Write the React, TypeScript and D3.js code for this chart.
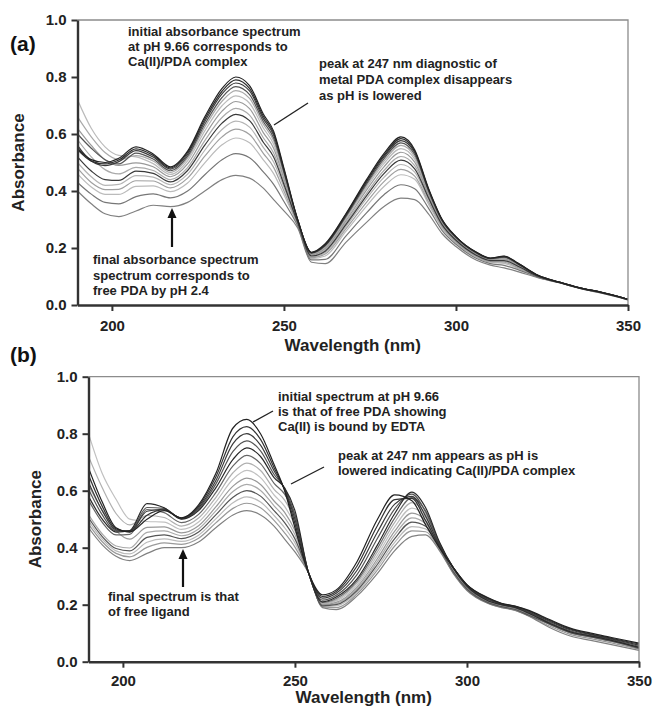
import { useEffect, useRef } from "react";
import * as d3 from "d3";

// wavelength grid (nm) shared by every spectrum
const wavelengths = [
  190, 194, 198, 202, 207, 212, 217, 222, 227, 232, 236, 240, 244, 247, 250, 254, 258, 262,
  268, 274, 279, 284, 288, 292, 296, 300, 306, 310, 314, 318, 324, 330, 336, 342, 350,
];

const xTicks = [200, 250, 300, 350];
const yTicks = [0, 0.2, 0.4, 0.6, 0.8, 1.0];

// (a) Ca(II)/PDA titrated from pH 9.66 (first) down to pH 2.4 (last)
const spectraA = [
  [0.55, 0.51, 0.50, 0.515, 0.555, 0.53, 0.485, 0.54, 0.66, 0.76, 0.80, 0.77, 0.67, 0.61, 0.48, 0.30, 0.185, 0.215, 0.32, 0.44, 0.53, 0.59, 0.545, 0.41, 0.30, 0.24, 0.185, 0.165, 0.172, 0.147, 0.103, 0.08, 0.06, 0.045, 0.02],
  [0.545, 0.505, 0.495, 0.509, 0.548, 0.525, 0.481, 0.535, 0.652, 0.75, 0.79, 0.76, 0.662, 0.603, 0.475, 0.299, 0.184, 0.212, 0.317, 0.435, 0.524, 0.584, 0.54, 0.407, 0.298, 0.239, 0.184, 0.164, 0.171, 0.146, 0.103, 0.08, 0.06, 0.045, 0.02],
  [0.56, 0.505, 0.489, 0.503, 0.542, 0.519, 0.477, 0.529, 0.644, 0.741, 0.779, 0.751, 0.654, 0.596, 0.471, 0.298, 0.183, 0.21, 0.314, 0.431, 0.519, 0.577, 0.535, 0.405, 0.297, 0.238, 0.183, 0.164, 0.169, 0.145, 0.103, 0.08, 0.06, 0.045, 0.02],
  [0.60, 0.55, 0.51, 0.495, 0.533, 0.512, 0.471, 0.522, 0.634, 0.728, 0.766, 0.738, 0.644, 0.586, 0.465, 0.297, 0.182, 0.208, 0.31, 0.425, 0.512, 0.569, 0.528, 0.401, 0.295, 0.237, 0.182, 0.163, 0.168, 0.144, 0.102, 0.08, 0.06, 0.045, 0.02],
  [0.66, 0.59, 0.535, 0.51, 0.524, 0.505, 0.465, 0.515, 0.624, 0.715, 0.752, 0.725, 0.634, 0.576, 0.459, 0.296, 0.18, 0.205, 0.306, 0.419, 0.504, 0.56, 0.52, 0.397, 0.293, 0.235, 0.181, 0.161, 0.166, 0.143, 0.102, 0.08, 0.06, 0.045, 0.02],
  [0.72, 0.62, 0.555, 0.525, 0.52, 0.496, 0.458, 0.506, 0.611, 0.699, 0.734, 0.708, 0.621, 0.564, 0.451, 0.294, 0.178, 0.202, 0.301, 0.412, 0.495, 0.549, 0.512, 0.393, 0.29, 0.233, 0.18, 0.16, 0.164, 0.141, 0.101, 0.08, 0.06, 0.044, 0.02],
  [0.62, 0.56, 0.51, 0.49, 0.499, 0.485, 0.45, 0.495, 0.595, 0.68, 0.714, 0.689, 0.605, 0.55, 0.443, 0.292, 0.176, 0.198, 0.295, 0.403, 0.484, 0.536, 0.501, 0.388, 0.288, 0.231, 0.178, 0.159, 0.162, 0.14, 0.101, 0.08, 0.06, 0.044, 0.02],
  [0.58, 0.52, 0.475, 0.46, 0.483, 0.472, 0.44, 0.482, 0.577, 0.658, 0.69, 0.666, 0.587, 0.533, 0.432, 0.29, 0.174, 0.193, 0.288, 0.392, 0.471, 0.521, 0.489, 0.381, 0.284, 0.229, 0.176, 0.157, 0.159, 0.137, 0.1, 0.079, 0.059, 0.044, 0.02],
  [0.52, 0.47, 0.44, 0.437, 0.47, 0.462, 0.432, 0.472, 0.561, 0.638, 0.669, 0.647, 0.571, 0.519, 0.423, 0.289, 0.172, 0.189, 0.282, 0.383, 0.46, 0.508, 0.478, 0.376, 0.281, 0.227, 0.174, 0.156, 0.156, 0.136, 0.1, 0.079, 0.059, 0.044, 0.02],
  [0.50, 0.45, 0.42, 0.423, 0.454, 0.449, 0.422, 0.459, 0.543, 0.616, 0.645, 0.624, 0.553, 0.502, 0.413, 0.287, 0.169, 0.184, 0.275, 0.373, 0.447, 0.493, 0.466, 0.37, 0.278, 0.224, 0.172, 0.154, 0.153, 0.134, 0.099, 0.079, 0.059, 0.044, 0.019],
  [0.48, 0.43, 0.405, 0.406, 0.436, 0.435, 0.411, 0.445, 0.522, 0.59, 0.617, 0.598, 0.532, 0.483, 0.40, 0.284, 0.166, 0.179, 0.267, 0.36, 0.432, 0.476, 0.452, 0.362, 0.274, 0.221, 0.17, 0.152, 0.15, 0.131, 0.099, 0.079, 0.059, 0.043, 0.019],
  [0.46, 0.414, 0.388, 0.388, 0.416, 0.418, 0.398, 0.428, 0.499, 0.562, 0.586, 0.569, 0.509, 0.461, 0.387, 0.281, 0.163, 0.172, 0.258, 0.347, 0.415, 0.457, 0.441, 0.354, 0.269, 0.218, 0.168, 0.15, 0.146, 0.128, 0.098, 0.079, 0.059, 0.043, 0.019],
  [0.43, 0.389, 0.36, 0.355, 0.38, 0.39, 0.376, 0.40, 0.457, 0.51, 0.531, 0.517, 0.467, 0.423, 0.363, 0.277, 0.158, 0.16, 0.242, 0.323, 0.386, 0.422, 0.408, 0.34, 0.261, 0.213, 0.163, 0.145, 0.139, 0.124, 0.097, 0.078, 0.058, 0.043, 0.018],
  [0.40, 0.355, 0.32, 0.31, 0.33, 0.35, 0.345, 0.36, 0.40, 0.44, 0.455, 0.445, 0.41, 0.37, 0.33, 0.27, 0.15, 0.145, 0.22, 0.29, 0.345, 0.375, 0.37, 0.32, 0.25, 0.205, 0.157, 0.14, 0.13, 0.117, 0.095, 0.078, 0.058, 0.042, 0.018],
];

// (b) Ca(II)/PDA with EDTA, pH 9.66 (first) down to low pH (last)
const spectraB = [
  [0.68, 0.56, 0.47, 0.455, 0.50, 0.53, 0.505, 0.55, 0.66, 0.82, 0.85, 0.80, 0.69, 0.60, 0.47, 0.31, 0.235, 0.252, 0.35, 0.50, 0.585, 0.565, 0.48, 0.40, 0.33, 0.27, 0.225, 0.205, 0.195, 0.18, 0.148, 0.118, 0.1, 0.085, 0.065],
  [0.655, 0.545, 0.466, 0.456, 0.514, 0.533, 0.504, 0.545, 0.648, 0.79, 0.825, 0.78, 0.679, 0.603, 0.485, 0.31, 0.229, 0.246, 0.335, 0.478, 0.569, 0.573, 0.495, 0.405, 0.33, 0.269, 0.223, 0.204, 0.194, 0.178, 0.145, 0.115, 0.097, 0.082, 0.062],
  [0.63, 0.53, 0.462, 0.458, 0.528, 0.535, 0.503, 0.54, 0.635, 0.765, 0.80, 0.76, 0.668, 0.605, 0.50, 0.31, 0.223, 0.24, 0.32, 0.455, 0.553, 0.58, 0.51, 0.41, 0.33, 0.268, 0.22, 0.203, 0.193, 0.175, 0.142, 0.112, 0.095, 0.08, 0.058],
  [0.605, 0.515, 0.459, 0.459, 0.541, 0.538, 0.501, 0.535, 0.623, 0.738, 0.775, 0.74, 0.656, 0.608, 0.515, 0.31, 0.216, 0.233, 0.305, 0.433, 0.536, 0.588, 0.525, 0.415, 0.33, 0.266, 0.218, 0.201, 0.191, 0.173, 0.138, 0.108, 0.092, 0.078, 0.054],
  [0.58, 0.50, 0.455, 0.46, 0.555, 0.54, 0.50, 0.53, 0.61, 0.71, 0.75, 0.72, 0.645, 0.61, 0.53, 0.31, 0.21, 0.227, 0.29, 0.41, 0.52, 0.595, 0.54, 0.42, 0.33, 0.265, 0.215, 0.20, 0.19, 0.17, 0.135, 0.105, 0.09, 0.075, 0.05],
  [0.567, 0.489, 0.445, 0.447, 0.534, 0.523, 0.488, 0.517, 0.593, 0.687, 0.724, 0.695, 0.625, 0.588, 0.513, 0.31, 0.208, 0.222, 0.283, 0.398, 0.504, 0.576, 0.529, 0.416, 0.328, 0.263, 0.214, 0.199, 0.189, 0.169, 0.134, 0.104, 0.089, 0.074, 0.049],
  [0.72, 0.61, 0.52, 0.48, 0.513, 0.506, 0.476, 0.504, 0.576, 0.663, 0.697, 0.671, 0.604, 0.567, 0.495, 0.31, 0.205, 0.217, 0.276, 0.386, 0.489, 0.558, 0.517, 0.413, 0.325, 0.261, 0.213, 0.198, 0.188, 0.168, 0.134, 0.104, 0.089, 0.074, 0.049],
  [0.80, 0.66, 0.57, 0.50, 0.492, 0.49, 0.464, 0.49, 0.56, 0.64, 0.671, 0.646, 0.584, 0.545, 0.478, 0.31, 0.203, 0.213, 0.268, 0.374, 0.473, 0.539, 0.506, 0.409, 0.323, 0.26, 0.211, 0.196, 0.186, 0.166, 0.133, 0.103, 0.088, 0.073, 0.048],
  [0.62, 0.53, 0.46, 0.43, 0.471, 0.473, 0.452, 0.477, 0.543, 0.616, 0.644, 0.622, 0.563, 0.524, 0.46, 0.31, 0.20, 0.208, 0.261, 0.362, 0.458, 0.521, 0.494, 0.406, 0.32, 0.258, 0.21, 0.195, 0.185, 0.165, 0.133, 0.103, 0.088, 0.073, 0.048],
  [0.516, 0.448, 0.406, 0.399, 0.454, 0.459, 0.442, 0.466, 0.529, 0.597, 0.622, 0.601, 0.546, 0.506, 0.446, 0.31, 0.198, 0.204, 0.255, 0.352, 0.445, 0.505, 0.485, 0.403, 0.318, 0.256, 0.209, 0.194, 0.184, 0.164, 0.132, 0.102, 0.087, 0.072, 0.047],
  [0.505, 0.439, 0.397, 0.389, 0.436, 0.445, 0.432, 0.455, 0.515, 0.577, 0.60, 0.581, 0.529, 0.488, 0.431, 0.31, 0.196, 0.20, 0.249, 0.342, 0.432, 0.49, 0.475, 0.40, 0.316, 0.255, 0.208, 0.193, 0.183, 0.163, 0.132, 0.102, 0.087, 0.072, 0.047],
  [0.494, 0.43, 0.389, 0.378, 0.419, 0.431, 0.422, 0.444, 0.501, 0.558, 0.578, 0.56, 0.512, 0.47, 0.417, 0.31, 0.194, 0.196, 0.243, 0.332, 0.419, 0.474, 0.466, 0.397, 0.314, 0.253, 0.207, 0.192, 0.182, 0.162, 0.131, 0.101, 0.086, 0.071, 0.046],
  [0.483, 0.421, 0.38, 0.368, 0.401, 0.417, 0.412, 0.433, 0.487, 0.538, 0.556, 0.54, 0.495, 0.452, 0.402, 0.31, 0.192, 0.19, 0.237, 0.322, 0.406, 0.459, 0.456, 0.394, 0.312, 0.252, 0.206, 0.191, 0.181, 0.161, 0.125, 0.096, 0.081, 0.066, 0.044],
  [0.47, 0.41, 0.37, 0.355, 0.38, 0.40, 0.40, 0.42, 0.47, 0.515, 0.53, 0.515, 0.475, 0.43, 0.385, 0.31, 0.19, 0.183, 0.23, 0.31, 0.39, 0.44, 0.445, 0.39, 0.31, 0.25, 0.205, 0.19, 0.18, 0.16, 0.12, 0.09, 0.075, 0.06, 0.04],
];

const FONT = "'Liberation Sans', Arial, Helvetica, sans-serif";

// grey level of each trace, same order as the spectra
const tonesA = ["#222", "#2e2e2e", "#3a3a3a", "#555", "#aaa", "#bbb", "#999", "#aaa", "#3a3a3a", "#b5b5b5", "#a0a0a0", "#bbb", "#777", "#808080"];
const tonesB = ["#222", "#333", "#3a3a3a", "#555", "#2a2a2a", "#666", "#b0b0b0", "#c0c0c0", "#999", "#aaa", "#555", "#bbb", "#999", "#808080"];

const panels = [
  {
    key: "a",
    label: "(a)",
    labelPos: [10, 51],
    spectra: spectraA,
    tones: tonesA,
    left: 77.5, right: 628, top: 20, bottom: 305,
    yTitleX: 24, xTitleY: 351, xPad: 9,
    notes: [
      { x: 128, y: 36, lines: ["initial absorbance spectrum", "at pH 9.66 corresponds to", "Ca(II)/PDA complex"], gap: 15 },
      { x: 319, y: 68, lines: ["peak at 247 nm diagnostic of", "metal PDA complex disappears", "as pH is lowered"], gap: 16 },
      { x: 93, y: 264, lines: ["final absorbance spectrum", "spectrum corresponds to", "free PDA by pH 2.4"], gap: 15.5 },
    ],
    pointers: [[274, 125, 308, 103]],
    arrow: [172, 247, 208],
  },
  {
    key: "b",
    label: "(b)",
    labelPos: [10, 362],
    spectra: spectraB,
    tones: tonesB,
    left: 88.5, right: 639, top: 376.7, bottom: 661.7,
    yTitleX: 41, xTitleY: 703, xPad: 8,
    notes: [
      { x: 278, y: 401, lines: ["initial spectrum at pH 9.66", "is that of free PDA showing", "Ca(II) is bound by EDTA"], gap: 15 },
      { x: 338, y: 460, lines: ["peak at 247 nm appears as pH is", "lowered indicating Ca(II)/PDA complex"], gap: 15 },
      { x: 108, y: 601, lines: ["final spectrum is that", "of free ligand"], gap: 14.5 },
    ],
    pointers: [[253, 422, 273, 411], [291, 484, 324, 467]],
    arrow: [183, 587, 549],
  },
];

type Panel = (typeof panels)[number];

function drawPanel(svg: d3.Selection<SVGSVGElement, unknown, null, undefined>, p: Panel) {
  const x = d3.scaleLinear().domain([190, 350]).range([p.left, p.right]);
  const y = d3.scaleLinear().domain([0, 1]).range([p.bottom, p.top]);
  const g = svg.append("g");

  const clipId = `clip-${p.key}`;
  g.append("clipPath")
    .attr("id", clipId)
    .append("rect")
    .attr("x", p.left)
    .attr("y", p.top)
    .attr("width", p.right - p.left)
    .attr("height", p.bottom - p.top);

  const line = d3
    .line<number>()
    .x((_, i) => x(wavelengths[i]))
    .y((d) => y(d))
    .curve(d3.curveMonotoneX);

  // light traces first so the dark ones sit on top
  const order = d3.range(p.spectra.length).sort((a, b) => d3.hsl(p.tones[b]).l - d3.hsl(p.tones[a]).l);
  g.append("g")
    .attr("clip-path", `url(#${clipId})`)
    .selectAll("path")
    .data(order)
    .join("path")
    .attr("d", (i) => line(p.spectra[i]))
    .attr("fill", "none")
    .attr("stroke", (i) => p.tones[i])
    .attr("stroke-width", 1.2);

  // thin frame on top and right
  g.append("path")
    .attr("d", `M${p.left},${p.top}H${p.right}V${p.bottom}`)
    .attr("fill", "none")
    .attr("stroke", "#8c8c8c")
    .attr("stroke-width", 1.3);

  const styleAxis = (ax: d3.Selection<SVGGElement, unknown, null, undefined>) => {
    ax.attr("font-family", FONT).attr("font-size", 15).attr("font-weight", "bold");
    ax.select(".domain").attr("stroke", "#333").attr("stroke-width", 2.4);
    ax.selectAll(".tick line").attr("stroke", "#333").attr("stroke-width", 2);
    ax.selectAll(".tick text").attr("fill", "#222");
  };

  g.append("g")
    .attr("transform", `translate(${p.left},0)`)
    .call(d3.axisLeft(y).tickValues(yTicks).tickFormat(d3.format(".1f")).tickSize(6).tickSizeOuter(0).tickPadding(5))
    .call(styleAxis);

  g.append("g")
    .attr("transform", `translate(0,${p.bottom})`)
    .call(d3.axisBottom(x).tickValues(xTicks).tickFormat(d3.format("d")).tickSize(6).tickSizeOuter(0).tickPadding(p.xPad))
    .call(styleAxis);

  // axis titles
  g.append("text")
    .attr("transform", `translate(${p.yTitleX},${(p.top + p.bottom) / 2}) rotate(-90)`)
    .attr("text-anchor", "middle")
    .attr("font-family", FONT)
    .attr("font-size", 17)
    .attr("font-weight", "bold")
    .attr("fill", "#222")
    .text("Absorbance");

  g.append("text")
    .attr("x", (p.left + p.right) / 2)
    .attr("y", p.xTitleY)
    .attr("text-anchor", "middle")
    .attr("font-family", FONT)
    .attr("font-size", 17)
    .attr("font-weight", "bold")
    .attr("fill", "#222")
    .text("Wavelength (nm)");

  g.append("text")
    .attr("x", p.labelPos[0])
    .attr("y", p.labelPos[1])
    .attr("font-family", FONT)
    .attr("font-size", 21)
    .attr("font-weight", "bold")
    .attr("fill", "#111")
    .text(p.label);

  // annotations
  p.notes.forEach((n) => {
    const t = g
      .append("text")
      .attr("font-family", FONT)
      .attr("font-size", 13)
      .attr("font-weight", "bold")
      .attr("fill", "#222");
    n.lines.forEach((s, i) => {
      t.append("tspan").attr("x", n.x).attr("y", n.y + i * n.gap).text(s);
    });
  });

  p.pointers.forEach(([x1, y1, x2, y2]) => {
    g.append("line")
      .attr("x1", x1).attr("y1", y1).attr("x2", x2).attr("y2", y2)
      .attr("stroke", "#222")
      .attr("stroke-width", 1.4);
  });

  const [ax, ay0, ay1] = p.arrow;
  g.append("line")
    .attr("x1", ax).attr("y1", ay0).attr("x2", ax).attr("y2", ay1 + 8)
    .attr("stroke", "#111")
    .attr("stroke-width", 2.2);
  g.append("path")
    .attr("d", `M${ax},${ay1}L${ax - 4.5},${ay1 + 10}L${ax + 4.5},${ay1 + 10}Z`)
    .attr("fill", "#111");
}

export default function App() {
  const ref = useRef<SVGSVGElement>(null);

  useEffect(() => {
    if (!ref.current) return;
    const svg = d3.select(ref.current);
    svg.selectAll("*").remove();
    panels.forEach((p) => drawPanel(svg, p));
  }, []);

  return (
    <svg
      ref={ref}
      width={653}
      height={711}
      style={{ position: "absolute", left: 0, top: 0, background: "#fff" }}
    />
  );
}
